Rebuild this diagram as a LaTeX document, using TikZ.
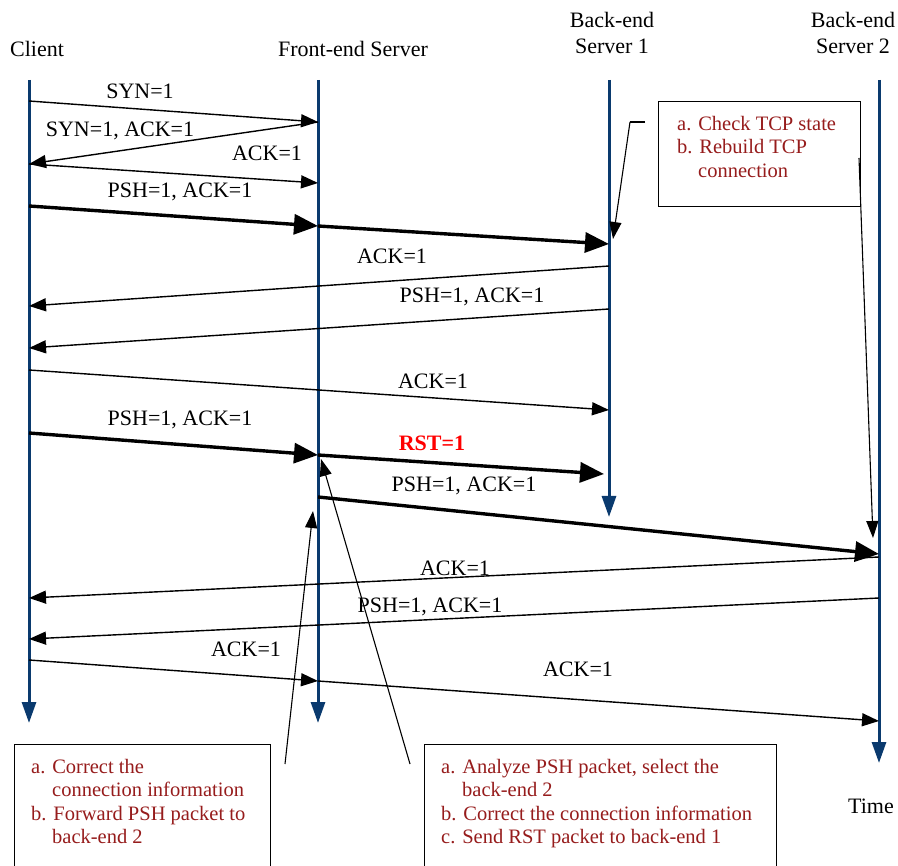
\documentclass[tikz,border=0pt]{standalone}
\usepackage{fontspec}
\setmainfont{Liberation Serif}
\usetikzlibrary{arrows.meta}
\definecolor{lifeblue}{RGB}{10,58,110}
\definecolor{noteRed}{RGB}{150,28,28}
\begin{document}
\begin{tikzpicture}[x=1pt,y=-1pt,
  lifeline/.style={line width=3pt, draw=lifeblue,
    -{Triangle[length=21pt,width=14pt,fill=lifeblue]}},
  msg/.style={line width=1.4pt, -{Triangle[length=17pt,width=13pt]}},
  bigmsg/.style={line width=3.4pt, -{Triangle[length=24pt,width=20pt]}},
  callout/.style={line width=1.1pt, -{Triangle[length=17pt,width=12pt]}},
  plainline/.style={line width=1.1pt},
  lbl/.style={font=\fontsize{22}{25}\selectfont, inner sep=0pt},
  rstlbl/.style={font=\fontsize{22}{25}\selectfont\bfseries, text=red, inner sep=0pt},
  head/.style={font=\fontsize{22}{26}\selectfont, inner sep=0pt, align=center},
  notebox/.style={draw, line width=1.1pt, anchor=north west, inner sep=0pt},
  notetext/.style={font=\fontsize{20.5}{23.3}\selectfont, text=noteRed,
    inner sep=0pt, anchor=north west, align=left}]
\clip (0,0) rectangle (898,866);

% actor headings
\node[head] (hClient) at (37,49) {Client};
\node[head] (hFront) at (353,49) {Front-end Server};
\node[head] (hBack1) at (612,33) {Back-end\\Server 1};
\node[head] (hBack2) at (853,33) {Back-end\\Server 2};
\node[head] (hTime) at (871,806) {Time};

% lifelines
\coordinate (cTop) at (29,80);    \coordinate (cEnd) at (29,723);
\coordinate (fTop) at (318,80);   \coordinate (fEnd) at (318,723);
\coordinate (b1Top) at (609,80);  \coordinate (b1End) at (609,517);
\coordinate (b2Top) at (879,80);  \coordinate (b2End) at (879,763);
\draw[lifeline] (cTop) -- (cEnd);
\draw[lifeline] (fTop) -- (fEnd);
\draw[lifeline] (b1Top) -- (b1End);
\draw[lifeline] (b2Top) -- (b2End);

% message end points
\coordinate (m1s) at (29,101);  \coordinate (m1e) at (318,122);
\coordinate (m2e) at (29,164);
\coordinate (m3e) at (318,183);
\coordinate (m4s) at (29,206);  \coordinate (m4m) at (318,226); \coordinate (m4e) at (609,244);
\coordinate (m5s) at (609,266); \coordinate (m5e) at (29,306);
\coordinate (m6s) at (609,309); \coordinate (m6e) at (29,348);
\coordinate (m7s) at (29,370);  \coordinate (m7e) at (609,410);
\coordinate (m8s) at (29,433);  \coordinate (m8e) at (318,455);
\coordinate (m9e) at (604,474);
\coordinate (m10s) at (318,497); \coordinate (m10e) at (879,554);
\coordinate (m11s) at (879,557); \coordinate (m11e) at (29,598);
\coordinate (m12s) at (879,598); \coordinate (m12e) at (29,639);
\coordinate (m13s) at (29,660); \coordinate (m13m) at (318,681); \coordinate (m13e) at (879,721);

% messages
\draw[msg] (m1s) -- (m1e);
\draw[msg] (m1e) -- (m2e);
\draw[msg] (m2e) -- (m3e);
\draw[bigmsg] (m4s) -- (m4m);
\draw[bigmsg] (m4m) -- (m4e);
\draw[msg] (m5s) -- (m5e);
\draw[msg] (m6s) -- (m6e);
\draw[msg] (m7s) -- (m7e);
\draw[bigmsg] (m8s) -- (m8e);
\draw[bigmsg] (m8e) -- (m9e);
\draw[bigmsg] (m10s) -- (m10e);
\draw[msg] (m11s) -- (m11e);
\draw[msg] (m12s) -- (m12e);
\draw[msg] (m13s) -- (m13m);
\draw[msg] (m13m) -- (m13e);

% message labels
\node[lbl] (l1) at (140,91) {SYN=1};
\node[lbl] (l2) at (120,131) {SYN=1, ACK=1};
\node[lbl] (l3) at (267,153) {ACK=1};
\node[lbl] (l4) at (180,192) {PSH=1, ACK=1};
\node[lbl] (l5) at (392,256) {ACK=1};
\node[lbl] (l6) at (472,297) {PSH=1, ACK=1};
\node[lbl] (l7) at (433,381) {ACK=1};
\node[lbl] (l8) at (180,420) {PSH=1, ACK=1};
\node[rstlbl] (l9) at (432,443) {RST=1};
\node[lbl] (l10) at (464,486) {PSH=1, ACK=1};
\node[lbl] (l11) at (455,568) {ACK=1};
\node[lbl] (l12) at (430,607) {PSH=1, ACK=1};
\node[lbl] (l13a) at (246,649) {ACK=1};
\node[lbl] (l13b) at (578,669) {ACK=1};

% note: back-end check
\node[notebox, minimum width=202pt, minimum height=105pt] (tcpBox) at (658,101) {};
\node[notetext] (tcpText) at (677,116)
  {a. Check TCP state\\b. Rebuild TCP\\\hspace*{21pt}connection};
\coordinate (tcpTick) at (645,122);
\coordinate (tcpBend) at (630,122);
\coordinate (tcpTip) at (613,239);
\draw[plainline] (tcpTick) -- (tcpBend);
\draw[callout] (tcpBend) -- (tcpTip);
\coordinate (tcpRight) at (859,158);
\coordinate (tcpTip2) at (873,538);
\draw[callout] (tcpRight) -- (tcpTip2);

% note: front-end forwarding
\node[notebox, minimum width=256pt, minimum height=160pt] (fwdBox) at (14,744) {};
\node[notetext] (fwdText) at (31,759)
  {a. Correct the\\\hspace*{21pt}connection information\\b. Forward PSH packet to\\\hspace*{21pt}back-end 2};
\coordinate (fwdFoot) at (285,764);
\coordinate (fwdTip) at (313,511);
\draw[callout] (fwdFoot) -- (fwdTip);

% note: front-end analysis
\node[notebox, minimum width=352pt, minimum height=160pt] (anaBox) at (424,744) {};
\node[notetext] (anaText) at (441,759)
  {a. Analyze PSH packet, select the\\\hspace*{21pt}back-end 2\\b. Correct the connection information\\c. Send RST packet to back-end 1};
\coordinate (anaFoot) at (410,764);
\coordinate (anaTip) at (321,459);
\draw[callout] (anaFoot) -- (anaTip);
\end{tikzpicture}
\end{document}
